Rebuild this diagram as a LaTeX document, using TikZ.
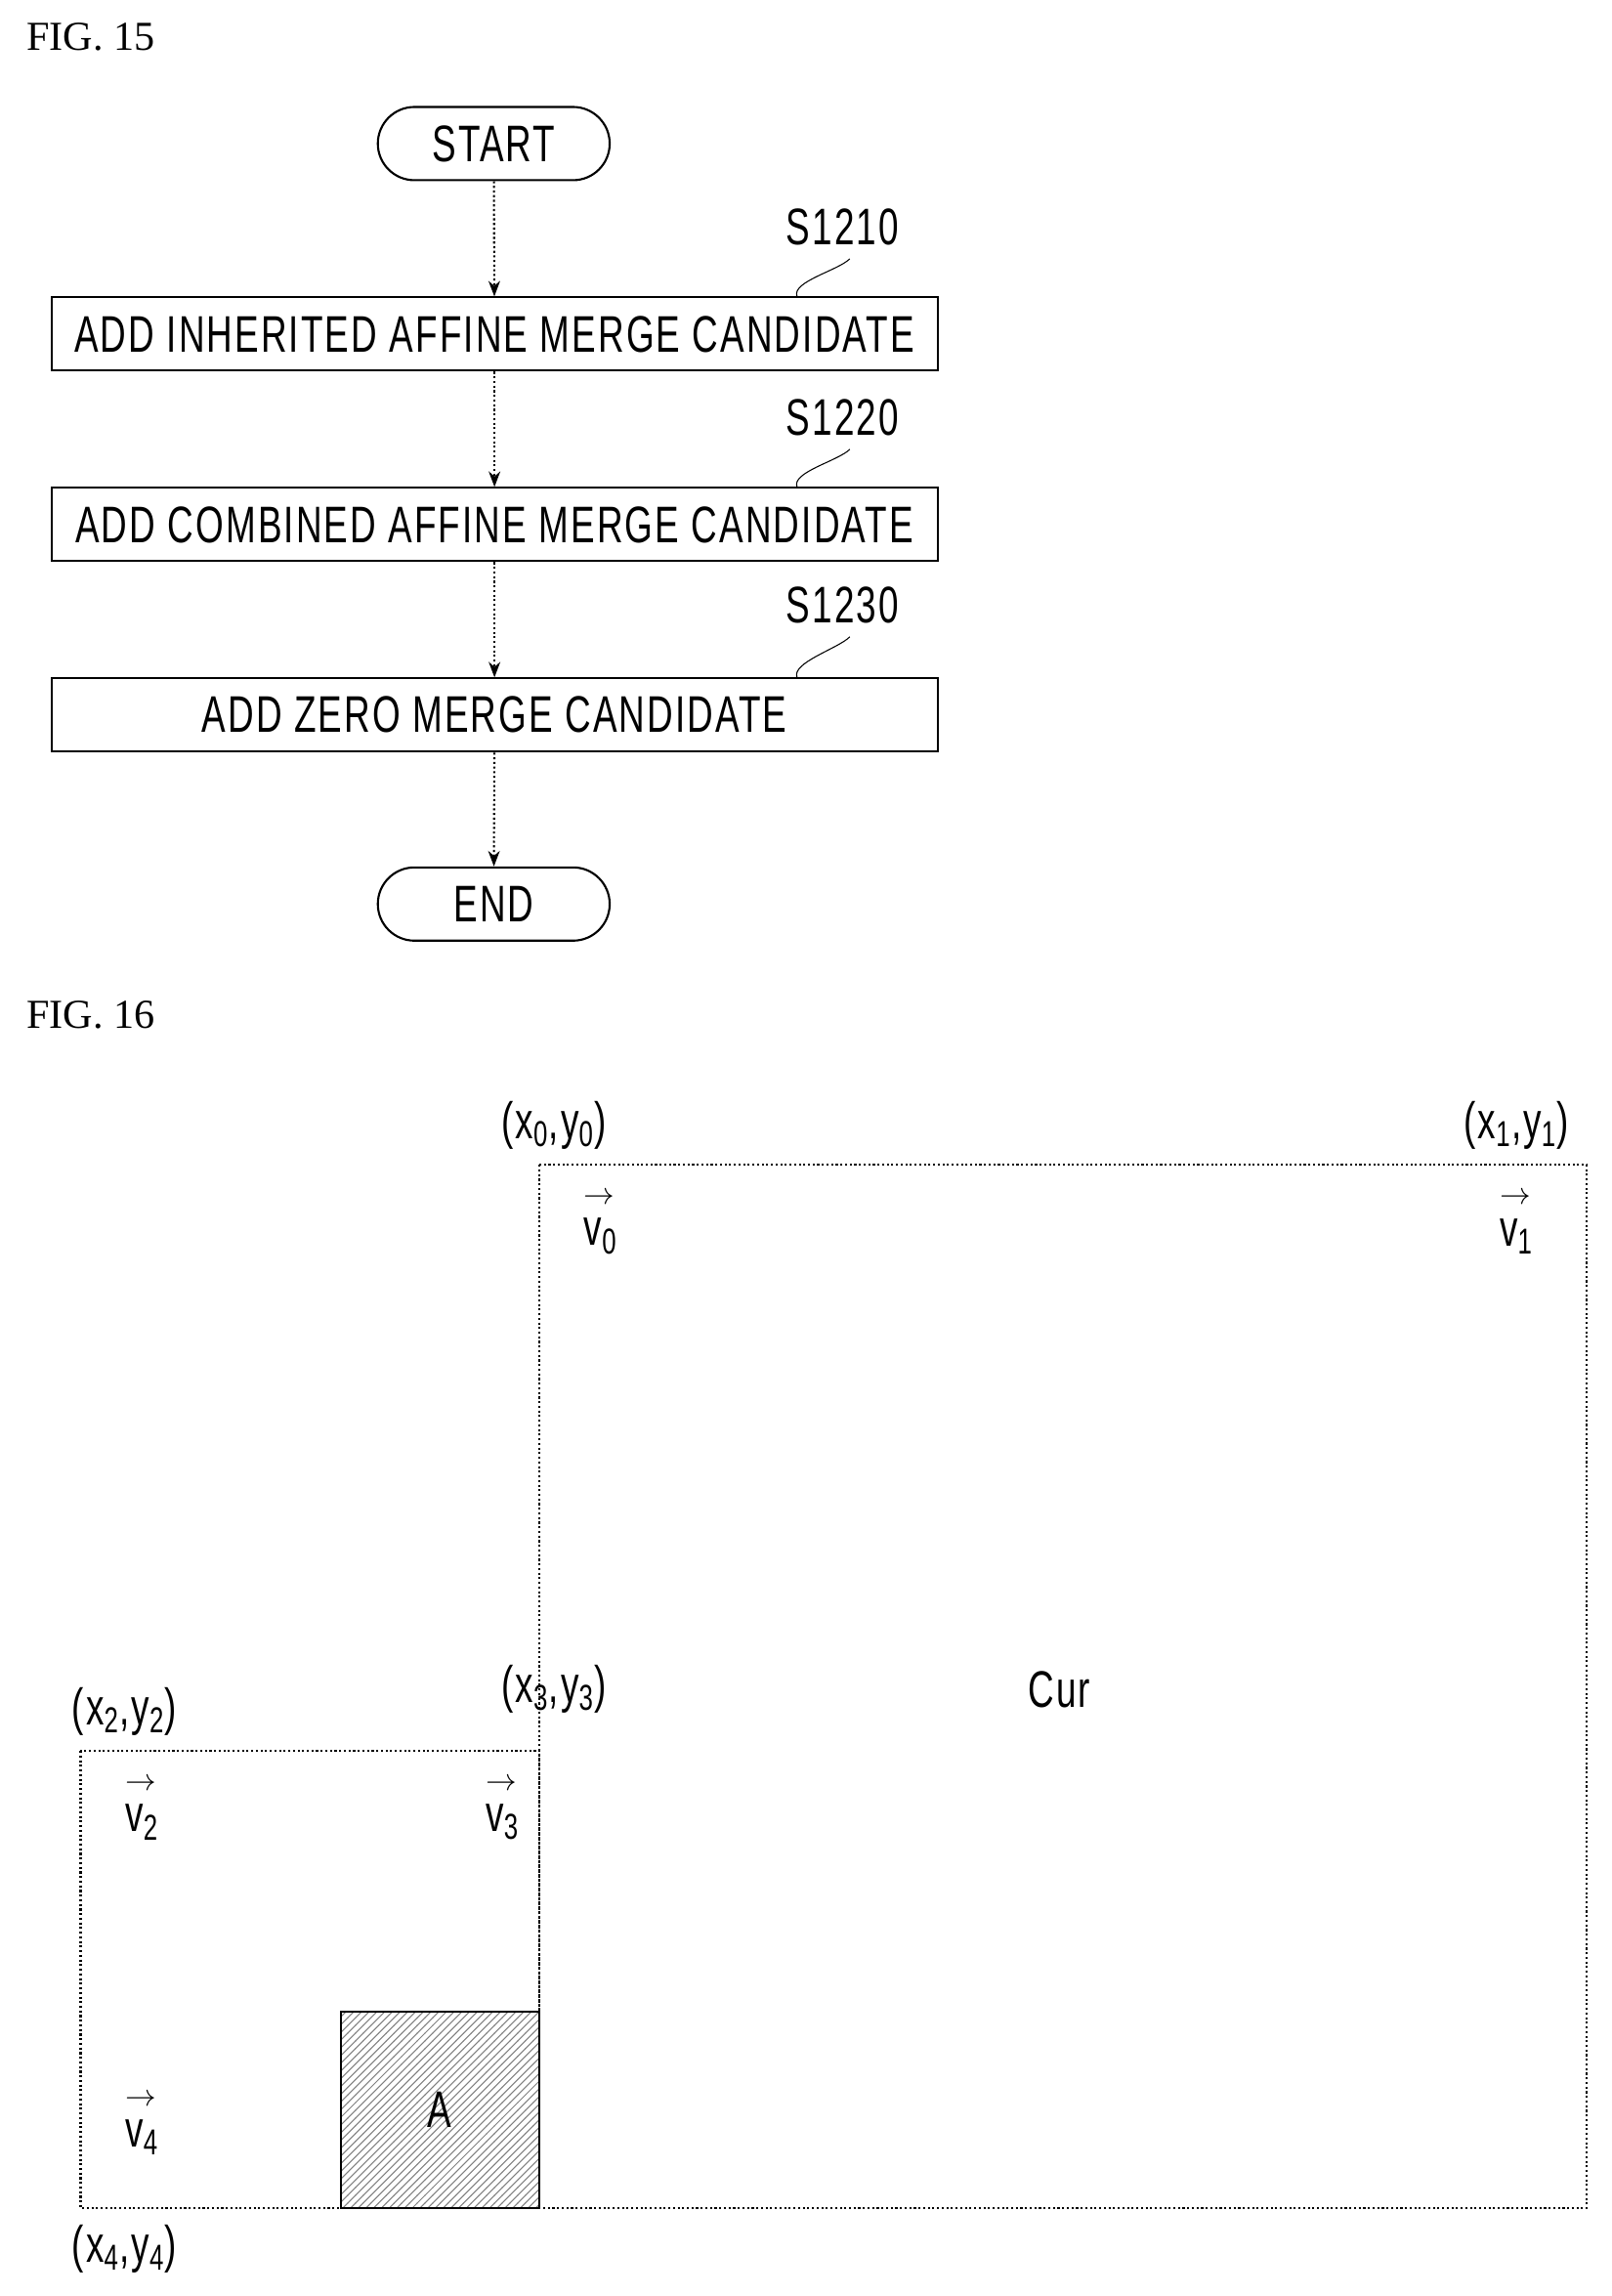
\documentclass[tikz,border=0pt]{standalone}
\usepackage{fontspec}
\setmainfont{Liberation Serif}
\newfontfamily\narrowsf[FakeStretch=0.7, LetterSpace=4]{Liberation Sans}
\usetikzlibrary{shapes.misc, arrows.meta, patterns}
\newcommand{\mvec}[1]{\rlap{\raisebox{0.8em}{\fontsize{12}{12}\selectfont$\rightarrow$}}v\textsubscript{#1}}
\newcommand{\cpt}[1]{(x\textsubscript{#1},y\textsubscript{#1})}

\begin{document}
\begin{tikzpicture}[x=0.02cm, y=-0.02cm,
  % Start/Ende
  terminal/.style={draw, rounded rectangle, minimum width=3.4cm, minimum height=1.0cm,
    font=\narrowsf\fontsize{20}{22}\selectfont, thick},
  % Schritt-Box
  stepbox/.style={draw, minimum width=12.1cm, minimum height=1.0cm, inner xsep=2pt,
    font=\narrowsf\fontsize{20}{22}\selectfont, thick},
  steplbl/.style={font=\narrowsf\fontsize{20}{22}\selectfont},
  flow/.style={-{Stealth[length=6pt]}, densely dotted, thick},
  coordlbl/.style={font=\narrowsf\fontsize{20}{22}\selectfont},
  figlbl/.style={font=\fontsize{16}{18}\selectfont, anchor=west}
]
\useasboundingbox (0,0) rectangle (1100,1567);

% =============================================================================
% FIG. 15
% =============================================================================
\node[figlbl] (fig15) at (12,25) {FIG. 15};

\node[terminal] (start) at (337,98) {START};
\node[stepbox] (s1210) at (337.5,228) {ADD INHERITED AFFINE MERGE CANDIDATE};
\node[stepbox] (s1220) at (337.5,358) {ADD COMBINED AFFINE MERGE CANDIDATE};
\node[stepbox] (s1230) at (337.5,488) {ADD ZERO MERGE CANDIDATE};
\node[terminal] (end) at (337,617) {END};

\foreach \a/\b in {start/s1210, s1210/s1220, s1220/s1230, s1230/end}
  \draw[flow] (\a) -- (\b);

% Schrittnummern
\foreach \s/\t/\y in {s1210/S1210/155, s1220/S1220/285, s1230/S1230/413} {
  \node[steplbl] (\s lbl) at (575,\y) {\t};
  \draw (\s lbl.south) ++(5,3) .. controls +(-8,8) and +(-4,-10) .. ([xshift=-55]\s.north east);
}

% =============================================================================
% FIG. 16
% =============================================================================
\node[figlbl] (fig16) at (12,693) {FIG. 16};

% Blöcke
\draw[thick, densely dotted] (368,795) rectangle (1083,1507);
\draw[thick, densely dotted] (55,1195) rectangle (368,1507);
\draw[thick, pattern=north east lines, pattern color=gray] (233,1373) rectangle (368,1507);

\node[coordlbl] (cur) at (723,1153) {Cur};
\node[coordlbl] (blka) at (300,1440) {A};

% Eckpunkte
\node[coordlbl] (p0) at (378,768) {\cpt{0}};
\node[coordlbl] (p1) at (1035,768) {\cpt{1}};
\node[coordlbl] (p2) at (85,1168) {\cpt{2}};
\node[coordlbl] (p3) at (378,1153) {\cpt{3}};
\node[coordlbl] (p4) at (85,1535) {\cpt{4}};

% Bewegungsvektoren
\node[coordlbl] (v0) at (410,835) {\mvec{0}};
\node[coordlbl] (v1) at (1035,835) {\mvec{1}};
\node[coordlbl] (v2) at (97,1235) {\mvec{2}};
\node[coordlbl] (v3) at (343,1235) {\mvec{3}};
\node[coordlbl] (v4) at (97,1450) {\mvec{4}};

\end{tikzpicture}
\end{document}
